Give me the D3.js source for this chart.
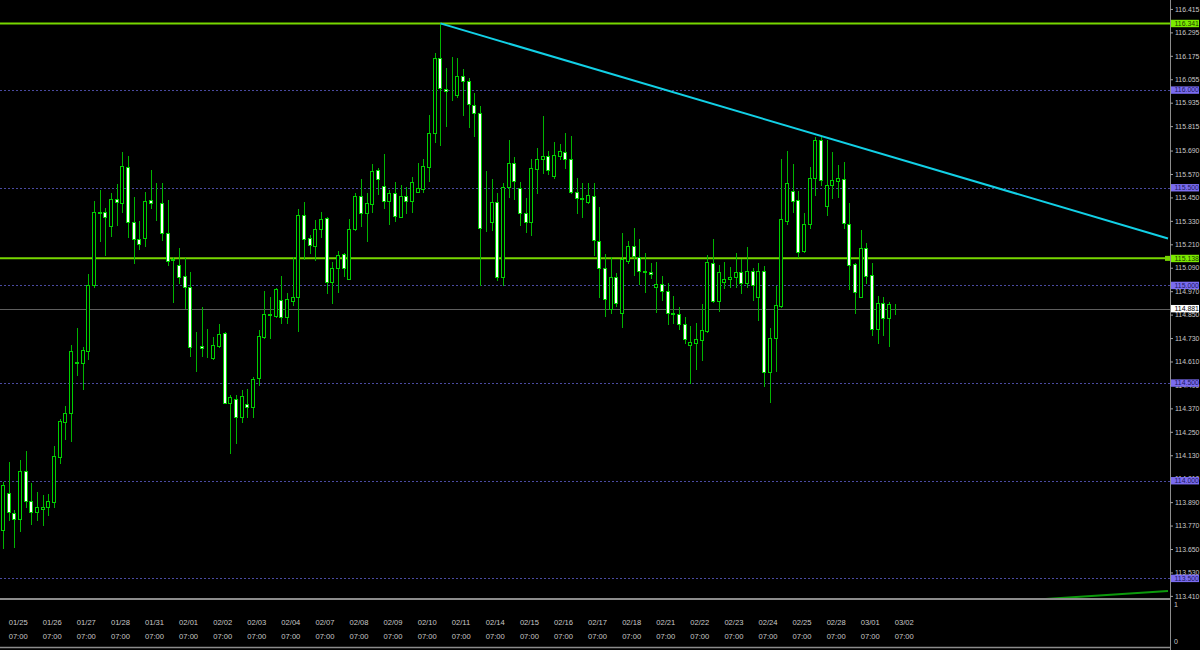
<!DOCTYPE html>
<html><head><meta charset="utf-8">
<script src="https://cdn.jsdelivr.net/npm/d3@7"></script>
<style>html,body{margin:0;padding:0;background:#000;overflow:hidden}svg{display:block}</style>
</head><body><svg id="c" width="1200" height="650"></svg>
<script>
const days = ["01/25","01/26","01/27","01/28","01/31","02/01","02/02","02/03","02/04","02/07","02/08","02/09","02/10","02/11","02/14","02/15","02/16","02/17","02/18","02/21","02/22","02/23","02/24","02/25","02/28","03/01","03/02"];
const hours = ["03:00","07:00","11:00","15:00","19:00","23:00"];

const opens = [113.747,113.938,113.836,113.802,114.051,113.894,113.840,113.855,113.864,113.891,
114.120,114.302,114.345,114.608,114.601,114.664,115.000,115.374,115.376,115.304,
115.444,115.423,115.608,115.324,115.236,115.244,115.435,115.420,115.422,115.267,
115.131,115.103,115.048,114.993,114.690,114.691,114.679,114.627,114.691,114.755,
114.399,114.420,114.325,114.393,114.376,114.524,114.737,114.850,114.843,114.925,
114.840,114.921,114.942,115.359,115.242,115.201,115.290,115.343,115.017,115.089,
115.159,115.034,115.287,115.457,115.372,115.417,115.591,115.509,115.433,115.471,
115.352,115.457,115.430,115.480,115.495,115.608,115.782,116.163,116.005,115.980,
115.975,116.073,116.046,115.925,115.881,115.331,115.326,115.428,115.041,115.502,
115.628,115.500,115.369,115.326,115.597,115.645,115.664,115.560,115.662,115.684,
115.648,115.480,115.446,115.427,115.459,115.229,115.087,114.878,115.044,114.857,
115.126,115.203,115.147,115.073,115.068,114.993,115.007,114.971,114.857,114.855,
114.802,114.695,114.707,114.720,114.768,115.113,114.921,115.017,115.031,115.041,
115.067,115.011,115.072,114.942,115.075,114.558,114.729,114.896,115.331,115.485,
115.437,115.177,115.314,115.548,115.744,115.407,115.514,115.536,115.543,115.314,
115.109,114.942,115.190,115.053,114.775,114.911,114.834,114.879];
const highs = [113.995,114.097,113.850,114.106,114.153,113.990,113.944,113.927,113.932,114.177,
114.314,114.382,114.693,114.783,114.684,115.057,115.432,115.488,115.396,115.474,
115.519,115.681,115.662,115.454,115.328,115.480,115.591,115.523,115.526,115.437,
115.144,115.190,115.139,115.067,114.763,114.888,114.775,114.734,114.802,114.763,
114.439,114.439,114.464,114.469,114.529,114.771,114.971,114.942,114.985,115.048,
114.962,115.144,115.389,115.427,115.258,115.335,115.376,115.352,115.120,115.174,
115.164,115.341,115.471,115.543,115.474,115.621,115.599,115.673,115.488,115.531,
115.514,115.505,115.556,115.628,115.645,115.872,116.188,116.341,116.111,116.171,
116.163,116.106,116.060,115.983,115.918,115.587,115.543,115.471,115.523,115.744,
115.659,115.531,115.446,115.645,115.702,115.867,115.690,115.735,115.724,115.782,
115.765,115.548,115.523,115.526,115.523,115.400,115.161,115.144,115.065,115.270,
115.227,115.294,115.236,115.167,115.116,115.120,115.048,115.011,114.946,114.891,
114.840,114.792,114.806,114.905,115.155,115.236,115.104,115.121,115.093,115.164,
115.133,115.195,115.087,115.113,115.099,114.780,114.997,115.645,115.689,115.621,
115.485,115.369,115.608,115.758,115.758,115.744,115.684,115.616,115.633,115.420,
115.116,115.283,115.215,115.116,114.946,114.942,114.916,114.905];
const lows = [113.655,113.799,113.662,113.744,113.864,113.778,113.799,113.773,113.824,113.867,
114.092,114.215,114.203,114.541,114.471,114.621,114.993,115.229,115.154,115.253,
115.309,115.377,115.246,115.116,115.185,115.202,115.398,115.335,115.232,115.104,
114.916,115.014,114.882,114.638,114.563,114.638,114.632,114.621,114.686,114.396,
114.140,114.191,114.302,114.328,114.325,114.490,114.732,114.729,114.840,114.809,
114.809,114.899,114.768,115.136,115.167,115.130,115.246,114.962,114.908,114.968,
115.048,115.031,115.283,115.304,115.229,115.377,115.468,115.395,115.314,115.331,
115.352,115.369,115.377,115.478,115.480,115.536,115.735,115.719,115.816,115.949,
115.966,115.872,115.812,115.765,115.002,115.280,115.283,115.027,115.002,115.454,
115.441,115.309,115.275,115.258,115.474,115.574,115.570,115.548,115.645,115.599,
115.471,115.372,115.349,115.420,115.155,114.942,114.843,114.860,114.894,114.785,
115.116,115.052,115.005,114.968,115.036,114.864,114.925,114.802,114.809,114.775,
114.706,114.499,114.570,114.618,114.763,114.916,114.870,114.985,114.993,114.990,
114.959,114.990,114.925,114.823,114.485,114.404,114.563,114.891,115.314,115.377,
115.144,115.172,115.292,115.463,115.514,115.360,115.446,115.451,115.292,114.980,
114.857,114.942,115.011,114.746,114.706,114.746,114.691,114.853];
const closes = [113.978,113.841,113.802,114.051,113.897,113.841,113.864,113.865,113.896,114.126,
114.305,114.348,114.665,114.602,114.668,115.002,115.376,115.372,115.352,115.441,
115.425,115.611,115.324,115.236,115.210,115.432,115.420,115.419,115.267,115.125,
115.133,115.044,114.993,114.683,114.688,114.678,114.677,114.693,114.751,114.399,
114.427,114.325,114.434,114.379,114.521,114.741,114.852,114.852,114.980,114.840,
114.929,114.942,115.359,115.239,115.207,115.290,115.338,115.017,115.087,115.154,
115.089,115.290,115.457,115.372,115.420,115.584,115.543,115.433,115.471,115.355,
115.457,115.430,115.531,115.497,115.611,115.778,116.163,116.009,115.995,115.977,
116.073,116.046,115.929,115.881,115.292,115.330,115.428,115.041,115.502,115.628,
115.533,115.369,115.324,115.599,115.645,115.664,115.591,115.667,115.686,115.648,
115.480,115.446,115.444,115.463,115.232,115.087,114.929,115.044,114.911,115.133,
115.203,115.150,115.073,115.068,115.057,115.007,114.971,114.860,114.855,114.802,
114.724,114.712,114.724,114.771,115.118,114.921,115.070,115.033,115.044,115.067,
115.011,115.072,115.002,115.075,114.558,114.731,114.899,115.338,115.526,115.433,
115.172,115.314,115.548,115.744,115.539,115.514,115.539,115.548,115.318,115.104,
114.964,115.190,115.049,114.775,114.908,114.831,114.903,114.881];

const yTicks = [116.415,116.295,116.175,116.055,115.935,115.815,115.690,115.570,115.450,115.330,115.210,115.090,114.970,114.850,114.730,114.610,114.490,114.370,114.250,114.130,114.010,113.890,113.770,113.650,113.530,113.410];
const roundLevels = [116.000,115.500,115.000,114.500,114.000,113.500];
const greenLevels = [116.341,115.138];
const bidPrice = 114.881;
const trendCyan = [{bar:77, price:116.341},{bar:144, price:115.765}];
const trendGreen = [{bar:183.5, price:113.394},{bar:205.2, price:113.435}];
const subLabels = ["1","0"];

const W=1200, H=650, axisX=1170, mainBottom=598;
const svg = d3.select("#c");
svg.append("rect").attr("width",W).attr("height",H).attr("fill","#000");

const bars = opens.map((o,i)=>({i, o, h:highs[i], l:lows[i], c:closes[i],
  day:days[Math.floor(i/6)], hour:hours[i%6]}));

const x = d3.scaleLinear().domain([0, bars.length-1]).range([3, 894.8]);
const y = d3.scaleLinear().domain([113.5, 116.0]).range([578.3, 90]);

svg.append("defs").append("clipPath").attr("id","mainClip")
  .append("rect").attr("x",0).attr("y",0).attr("width",axisX).attr("height",mainBottom);

const main = svg.append("g").attr("clip-path","url(#mainClip)");

main.selectAll("line.rl").data(roundLevels).join("line")
  .attr("x1",0).attr("x2",axisX)
  .attr("y1",d=>Math.round(y(d))+0.5).attr("y2",d=>Math.round(y(d))+0.5)
  .attr("stroke","#4a4aa0").attr("stroke-width",1).attr("stroke-dasharray","2,2");

main.append("line").attr("x1",0).attr("x2",axisX)
  .attr("y1",Math.round(y(bidPrice))+0.5).attr("y2",Math.round(y(bidPrice))+0.5)
  .attr("stroke","#5e5e5e").attr("stroke-width",1.2);

main.selectAll("line.gl").data(greenLevels).join("line")
  .attr("x1",0).attr("x2",axisX)
  .attr("y1",d=>y(d)).attr("y2",d=>y(d))
  .attr("stroke","#76d600").attr("stroke-width",2);
main.append("rect").attr("x",axisX-5).attr("y",y(greenLevels[1])-2.5).attr("width",5).attr("height",5)
  .attr("fill","#76d600");

const g = main.append("g").attr("shape-rendering","crispEdges");
const cg = g.selectAll("g.c").data(bars).join("g");
cg.append("line")
  .attr("x1",d=>Math.round(x(d.i))+0.5).attr("x2",d=>Math.round(x(d.i))+0.5)
  .attr("y1",d=>Math.round(y(d.h))).attr("y2",d=>Math.round(y(d.l))+1)
  .attr("stroke","#00b400").attr("stroke-width",1);
cg.append("rect")
  .attr("x",d=>Math.round(x(d.i))-1.5)
  .attr("width",3)
  .attr("y",d=>Math.round(y(Math.max(d.o,d.c)))+0.5)
  .attr("height",d=>Math.max(0, Math.round(y(Math.min(d.o,d.c)))-Math.round(y(Math.max(d.o,d.c)))))
  .attr("fill",d=>d.c>=d.o?"#000":"#fff")
  .attr("stroke","#00d000").attr("stroke-width",1);

function ray(pts, xEnd){
  const [a,b]=pts;
  const slope=(b.price-a.price)/(b.bar-a.bar);
  const endBar=x.invert(xEnd);
  return [[x(a.bar),y(a.price)],[xEnd,y(a.price+slope*(endBar-a.bar))]];
}
main.append("path").attr("d",d3.line()(ray(trendCyan, axisX-2)))
  .attr("stroke","#12d0e6").attr("stroke-width",2).attr("fill","none");
main.append("path").attr("d",d3.line()(ray(trendGreen, axisX-2)))
  .attr("stroke","#0c9a0c").attr("stroke-width",2).attr("fill","none");

svg.append("line").attr("x1",0).attr("x2",axisX).attr("y1",599).attr("y2",599)
  .attr("stroke","#8c8c8c").attr("stroke-width",2);
svg.append("line").attr("x1",0).attr("x2",axisX).attr("y1",647.5).attr("y2",647.5)
  .attr("stroke","#8c8c8c").attr("stroke-width",1.5);
svg.append("line").attr("x1",axisX+0.5).attr("x2",axisX+0.5).attr("y1",0).attr("y2",H)
  .attr("stroke","#8c8c8c").attr("stroke-width",1);

const ax = svg.append("g").attr("transform",`translate(${axisX},0)`)
  .call(d3.axisRight(y).tickValues(yTicks).tickSize(3).tickPadding(2).tickFormat(d3.format(".3f")));
ax.select(".domain").remove();
ax.selectAll("line").attr("stroke","#a0a0a0");
ax.selectAll("text").attr("fill","#c8c8c8").attr("font-size","6.9px")
  .attr("font-family","'Liberation Sans', Arial, sans-serif");

function box(val, bg, fg){
  const yy=y(val);
  svg.append("rect").attr("x",axisX+1).attr("y",yy-3.6).attr("width",28).attr("height",7.4).attr("fill",bg);
  svg.append("text").attr("x",axisX+4.5).attr("y",yy).attr("dy","0.35em")
    .attr("font-size","6.9px").attr("font-family","'Liberation Sans', Arial, sans-serif")
    .attr("fill",fg).text(d3.format(".3f")(val));
}
roundLevels.forEach(v=>box(v,"#7b6cf0","#1a1a60"));
greenLevels.forEach(v=>box(v,"#7cea00","#1a3a00"));
box(bidPrice,"#ffffff","#000000");

svg.selectAll("text.sub").data(subLabels).join("text")
  .attr("x",axisX+4).attr("y",(d,i)=>i===0?607:644)
  .attr("font-size","7px").attr("font-family","'Liberation Sans', Arial, sans-serif")
  .attr("fill","#c8c8c8").text(d=>d);

const labelBars = bars.filter(b=>b.i%6===1);
const tl = svg.append("g").attr("font-family","'Liberation Sans', Arial, sans-serif")
  .attr("font-size","7.6px").attr("fill","#c8c8c8");
tl.selectAll("text.d").data(labelBars).join("text")
  .attr("x",d=>x(d.i)).attr("y",624.5).text(d=>d.day);
tl.selectAll("text.t").data(labelBars).join("text")
  .attr("x",d=>x(d.i)).attr("y",638.5).text(d=>d.hour);
</script></body></html>
